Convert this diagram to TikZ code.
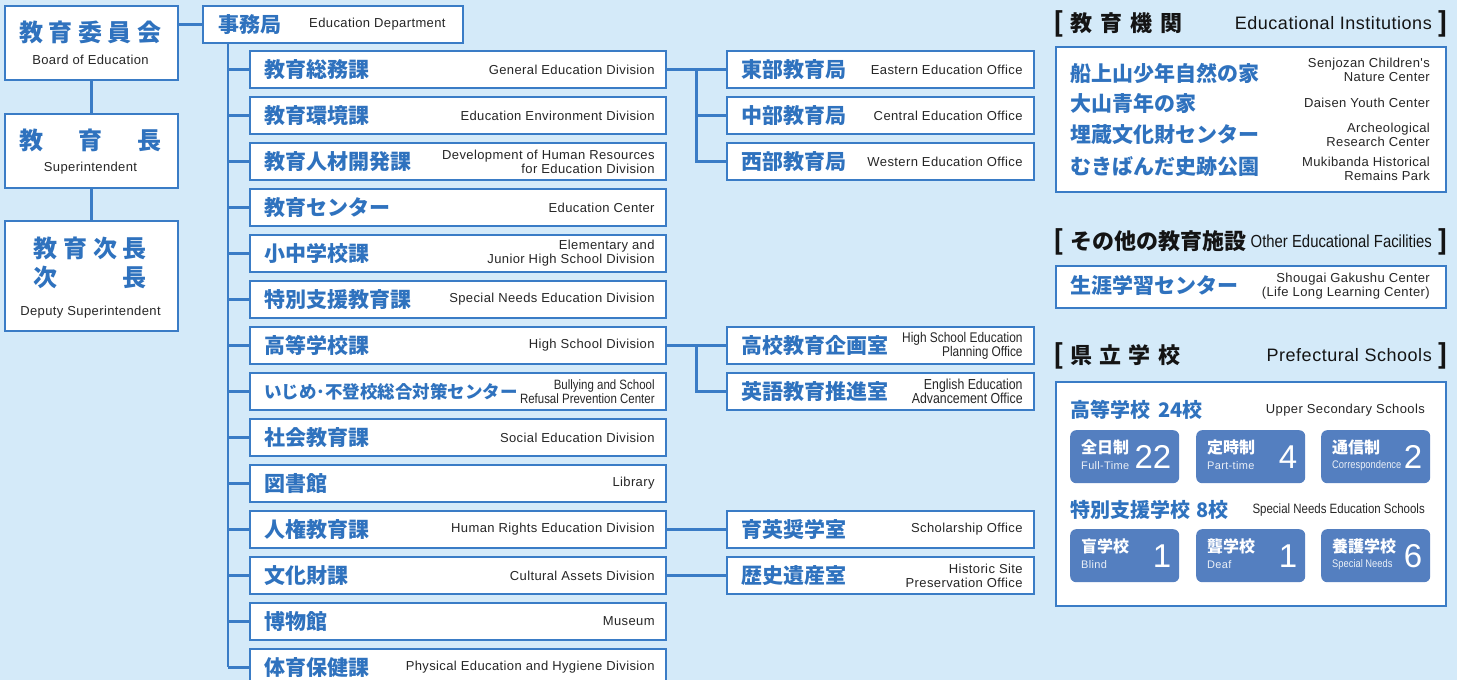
\documentclass[tikz,border=0pt]{standalone}
\usepackage{fontspec}
\setmainfont{Liberation Sans}
\newfontfamily\enf[LetterSpace=3]{Liberation Sans}
\newfontfamily\encf[FakeStretch=0.85]{Liberation Sans}
\newfontfamily\jpf{Noto Sans CJK JP}
\usetikzlibrary{calc}
\definecolor{bg}{RGB}{212,234,249}
\definecolor{bc}{RGB}{58,124,198}
\definecolor{jc}{RGB}{47,114,190}
\definecolor{tilec}{RGB}{84,127,192}
\definecolor{ec}{RGB}{38,38,38}
\definecolor{hc}{RGB}{20,20,20}
\tikzset{
  box/.style={draw=bc, line width=1.8pt, fill=white, inner sep=0pt},
  conn/.style={draw=bc, line width=2.3pt},
  jp/.style={text=jc, font=\jpf\bfseries\fontsize{21}{23}\selectfont, inner sep=0pt},
  jpL/.style={text=jc, font=\jpf\bfseries\fontsize{24}{26}\selectfont, inner sep=0pt},
  en/.style={text=ec, font=\enf\fontsize{13}{14}\selectfont, inner sep=0pt, align=right},
  enc/.style={text=ec, font=\encf\fontsize{13.5}{14}\selectfont, inner sep=0pt, align=right},
  hd/.style={text=hc, font=\jpf\bfseries\fontsize{22}{24}\selectfont, inner sep=0pt},
  brk/.style={text=hc, font=\jpf\bfseries\fontsize{27}{28}\selectfont, inner sep=0pt},
  hen/.style={text=hc, font=\enf\fontsize{18}{20}\selectfont, inner sep=0pt},
  tilebox/.style={fill=tilec, rounded corners=6pt, minimum width=109pt, minimum height=53pt, inner sep=0pt},
  tjp/.style={text=white, font=\jpf\bfseries\fontsize{16}{18}\selectfont, inner sep=0pt},
  ten/.style={text=white!88!tilec, font=\enf\fontsize{11}{12}\selectfont, inner sep=0pt},
  tenc/.style={text=white!88!tilec, font=\encf\fontsize{11}{12}\selectfont, inner sep=0pt},
  tnum/.style={text=white, font=\fontsize{33}{34}\selectfont, inner sep=0pt},
}
\newcommand\divbox[5][]{%
  \node[box, minimum width=416pt, minimum height=37pt, anchor=north west] (#3) at (249,{50+46*#2}) {};
  \node[jp, anchor=west] (#3-j) at ($(#3.west)+(15,0)$) {#4};
  \node[en, anchor=east, #1] (#3-e) at ($(#3.east)+(-12,0)$) {#5};
}
\newcommand\subbox[5][]{%
  \node[box, minimum width=307pt, minimum height=37pt, anchor=north west] (#3) at (726,{50+46*#2}) {};
  \node[jp, anchor=west] (#3-j) at ($(#3.west)+(15,0)$) {#4};
  \node[en, anchor=east, #1] (#3-e) at ($(#3.east)+(-12,0)$) {#5};
}
\newcommand\tilenode[6]{%
  \node[tilebox, anchor=north west] (#3) at (#1,#2) {};
  \node[tjp, anchor=west] (#3-j) at ($(#3.north west)+(11,17)$) {#4};
  \node[anchor=west, inner sep=0pt] (#3-e) at ($(#3.north west)+(11,36)$) {#5};
  \node[tnum, anchor=east] (#3-n) at ($(#3.east)+(-8,0)$) {#6};
}
\begin{document}
\begin{tikzpicture}[x=1pt,y=-1pt]
\useasboundingbox (0,0) rectangle (1457,680);
\fill[bg] (0,0) rectangle (1457,680);

% left column
\node[box, minimum width=173pt, minimum height=74pt, anchor=north west] (boe) at (4,5) {};
\node[jpL] (boe-j) at (90.5,32) {\makebox[142pt][s]{教\hfill 育\hfill 委\hfill 員\hfill 会}};
\node[en] (boe-e) at (90.5,60) {Board of Education};
\node[box, minimum width=173pt, minimum height=74pt, anchor=north west] (sup) at (4,113) {};
\node[jpL] (sup-j) at (90.5,140) {\makebox[142pt][s]{教\hfill 育\hfill 長}};
\node[en] (sup-e) at (90.5,168) {Superintendent};
\node[box, minimum width=173pt, minimum height=110pt, anchor=north west] (dep) at (4,220) {};
\node[jpL] (dep-j1) at (90.5,248) {\makebox[113pt][s]{教\hfill 育\hfill 次\hfill 長}};
\node[jpL] (dep-j2) at (90.5,277) {\makebox[113pt][s]{次\hfill 長}};
\node[en] (dep-e) at (90.5,312) {Deputy Superintendent};
\draw[conn] (boe.south) -- (sup.north);
\draw[conn] (sup.south) -- (dep.north);

% jimukyoku
\node[box, minimum width=260pt, minimum height=37pt, anchor=north west] (jimu) at (202,5) {};
\node[jp, anchor=west] (jimu-j) at ($(jimu.west)+(16,0)$) {事務局};
\node[en, anchor=east] (jimu-e) at ($(jimu.east)+(-18,0)$) {Education Department};
\draw[conn] (boe.east |- jimu.west) -- (jimu.west);

% divisions
\divbox{0}{gen}{教育総務課}{General Education Division}
\divbox{1}{env}{教育環境課}{Education Environment Division}
\divbox{2}{hrd}{教育人材開発課}{Development of Human Resources\\for Education Division}
\divbox{3}{ctr}{教育センター}{Education Center}
\divbox{4}{ejh}{小中学校課}{Elementary and\\Junior High School Division}
\divbox{5}{sne}{特別支援教育課}{Special Needs Education Division}
\divbox{6}{hsd}{高等学校課}{High School Division}
\divbox[font=\encf\fontsize{13.5}{14}\selectfont]{7}{bul}{\fontsize{17.5}{20}\selectfont いじめ･不登校総合対策センター}{Bullying and School\\Refusal Prevention Center}
\divbox{8}{soc}{社会教育課}{Social Education Division}
\divbox{9}{lib}{図書館}{Library}
\divbox{10}{hum}{人権教育課}{Human Rights Education Division}
\divbox{11}{cul}{文化財課}{Cultural Assets Division}
\divbox{12}{mus}{博物館}{Museum}
\divbox{13}{phy}{体育保健課}{Physical Education and Hygiene Division}

\coordinate (tr) at ($(jimu.south west)+(26,0)$);
\draw[conn] (tr) -- (tr |- phy.west);
\foreach \n in {gen,env,hrd,ctr,ejh,sne,hsd,bul,soc,lib,hum,cul,mus,phy}
  \draw[conn] (tr |- \n.west) -- (\n.west);

% sub offices
\subbox{0}{east}{東部教育局}{Eastern Education Office}
\subbox{1}{cent}{中部教育局}{Central Education Office}
\subbox{2}{west}{西部教育局}{Western Education Office}
\subbox[font=\encf\fontsize{14}{14}\selectfont]{6}{hsp}{高校教育企画室}{High School Education\\Planning Office}
\subbox[font=\encf\fontsize{14.5}{14}\selectfont]{7}{eng}{英語教育推進室}{English Education\\Advancement Office}
\subbox{10}{sch}{育英奨学室}{Scholarship Office}
\subbox{11}{his}{歴史遺産室}{Historic Site\\Preservation Office}

\draw[conn] (gen.east) -- (east.west);
\coordinate (b1) at ($(gen.east)!0.5!(east.west)$);
\draw[conn] (b1) |- (cent.west);
\draw[conn] (b1) |- (west.west);
\draw[conn] (hsd.east) -- (hsp.west);
\coordinate (b2) at ($(hsd.east)!0.5!(hsp.west)$);
\draw[conn] (b2) |- (eng.west);
\draw[conn] (hum.east) -- (sch.west);
\draw[conn] (cul.east) -- (his.west);

% right panel: institutions
\node[brk, anchor=west] (h1a) at (1053,24) {[};
\node[hd, anchor=west] (h1b) at (1070,23) {\makebox[112pt][s]{教\hfill 育\hfill 機\hfill 関}};
\node[hen, anchor=east] (h1c) at (1432,23) {Educational Institutions};
\node[brk, anchor=east] (h1d) at (1448,24) {]};
\node[box, minimum width=390pt, minimum height=145pt, anchor=north west] (inst) at (1055,46) {};
\node[jp, anchor=west] (i1) at (1070,73) {船上山少年自然の家};
\node[jp, anchor=west] (i2) at (1070,104) {大山青年の家};
\node[jp, anchor=west] (i3) at (1070,135) {埋蔵文化財センター};
\node[jp, anchor=west] (i4) at (1070,167) {むきばんだ史跡公園};
\node[en, anchor=east] (i1e) at (1430,70) {Senjozan Children's\\Nature Center};
\node[en, anchor=east] (i2e) at (1430,103) {Daisen Youth Center};
\node[en, anchor=east] (i3e) at (1430,135) {Archeological\\Research Center};
\node[en, anchor=east] (i4e) at (1430,169) {Mukibanda Historical\\Remains Park};

% other facilities
\node[brk, anchor=west] (h2a) at (1053,242) {[};
\node[hd, anchor=west] (h2b) at (1070,241) {その他の教育施設};
\node[hen, anchor=east] (h2c) at (1432,241) {\encf\fontsize{17.5}{20}\selectfont Other Educational Facilities};
\node[brk, anchor=east] (h2d) at (1448,242) {]};
\node[box, minimum width=390pt, minimum height=42pt, anchor=north west] (oth) at (1055,265) {};
\node[jp, anchor=west] (o1) at (1070,285) {生涯学習センター};
\node[en, anchor=east] (o1e) at (1430,286) {Shougai Gakushu Center\\(Life Long Learning Center)};

% prefectural schools
\node[brk, anchor=west] (h3a) at (1053,356) {[};
\node[hd, anchor=west] (h3b) at (1070,355) {\makebox[110pt][s]{県\hfill 立\hfill 学\hfill 校}};
\node[hen, anchor=east] (h3c) at (1432,355) {Prefectural Schools};
\node[brk, anchor=east] (h3d) at (1448,356) {]};
\node[box, minimum width=390pt, minimum height=224pt, anchor=north west] (pref) at (1055,381) {};
\node[jp, anchor=west, font=\jpf\bfseries\fontsize{20}{22}\selectfont] (p1) at (1070,410) {高等学校\hspace{8pt}24校};
\node[en, anchor=east] (p1e) at (1425,410) {Upper Secondary Schools};
\node[jp, anchor=west, font=\jpf\bfseries\fontsize{20}{22}\selectfont] (p2) at (1070,510) {特別支援学校\hspace{6pt}8校};
\node[enc, anchor=east] (p2e) at (1425,510) {Special Needs Education Schools};

\tilenode{1070}{430}{t1}{全日制}{\tikz[baseline]\node[ten,anchor=base]{Full-Time};}{22}
\tilenode{1196}{430}{t2}{定時制}{\tikz[baseline]\node[ten,anchor=base]{Part-time};}{4}
\tilenode{1321}{430}{t3}{通信制}{\tikz[baseline]\node[tenc,anchor=base]{Correspondence};}{2}
\tilenode{1070}{529}{t4}{盲学校}{\tikz[baseline]\node[ten,anchor=base]{Blind};}{1}
\tilenode{1196}{529}{t5}{聾学校}{\tikz[baseline]\node[ten,anchor=base]{Deaf};}{1}
\tilenode{1321}{529}{t6}{養護学校}{\tikz[baseline]\node[tenc,anchor=base]{Special Needs};}{6}
\end{tikzpicture}
\end{document}
